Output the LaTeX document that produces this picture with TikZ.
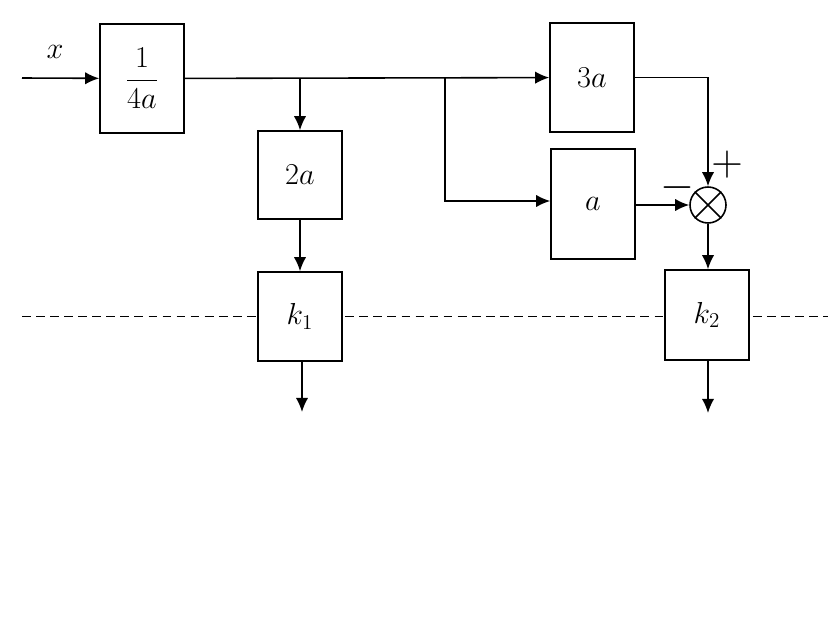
\documentclass[tikz,border=0pt]{standalone}
\usepackage{amsmath}
\usetikzlibrary{arrows.meta}
\begin{document}
\begin{tikzpicture}[x=0.02cm, y=-0.02cm, >={Latex[length=8pt,width=7pt]},
    line width=0.9pt, font=\fontsize{18}{21}\selectfont,
    block/.style={draw, fill=white, inner sep=0pt, minimum width=1.68cm},
    sign/.style={font=\fontsize{24}{26}\selectfont}]
    \useasboundingbox (0,0) rectangle (838,635);

    % dashed separation line
    \draw[line width=0.5pt, dash pattern=on 5pt off 3pt] (22,316) -- (828,316);

    \node[block, minimum height=2.18cm] (G) at (142,78.5) {$\dfrac{1}{4a}$};
    \node[block, minimum height=1.76cm] (B2) at (300,175) {$2a$};
    \node[block, minimum height=2.18cm] (B3) at (592,77.5) {$3a$};
    \node[block, minimum height=2.2cm] (B1) at (593,204) {$a$};
    \node[block, minimum height=1.78cm] (K1) at (300,316.5) {$k_1$};
    \node[block, minimum height=1.8cm] (K2) at (707,315) {$k_2$};
    \node[circle, draw, minimum size=0.72cm, inner sep=0pt] (S) at (708,205) {};
    \draw (S.north east) -- (S.south west) (S.north west) -- (S.south east);

    \coordinate (in) at (22,78);
    \coordinate (p1) at (300,78);
    \coordinate (p2) at (445,78);
    \coordinate (o1) at (302,412);
    \coordinate (o2) at (708,413);

    \node (x) at (55,52) {$x$};
    \node[sign] (plus) at (727,165) {$+$};
    \node[sign] (minus) at (677,188) {$-$};

    \draw[->] (in) -- (G);
    \draw[->] (G) -- (B3);
    \draw[->] (p1) -- (B2);
    \draw[->] (p2) |- (B1.west |- 0,201);
    \draw[->] (B2) -- (K1);
    \draw[->] (B3) -| (S);
    \draw[->] (B1.east |- S) -- (S);
    \draw[->] (S) -- (K2.north -| S);
    \draw[->] (K1.south -| o1) -- (o1);
    \draw[->] (K2.south -| o2) -- (o2);
\end{tikzpicture}
\end{document}
